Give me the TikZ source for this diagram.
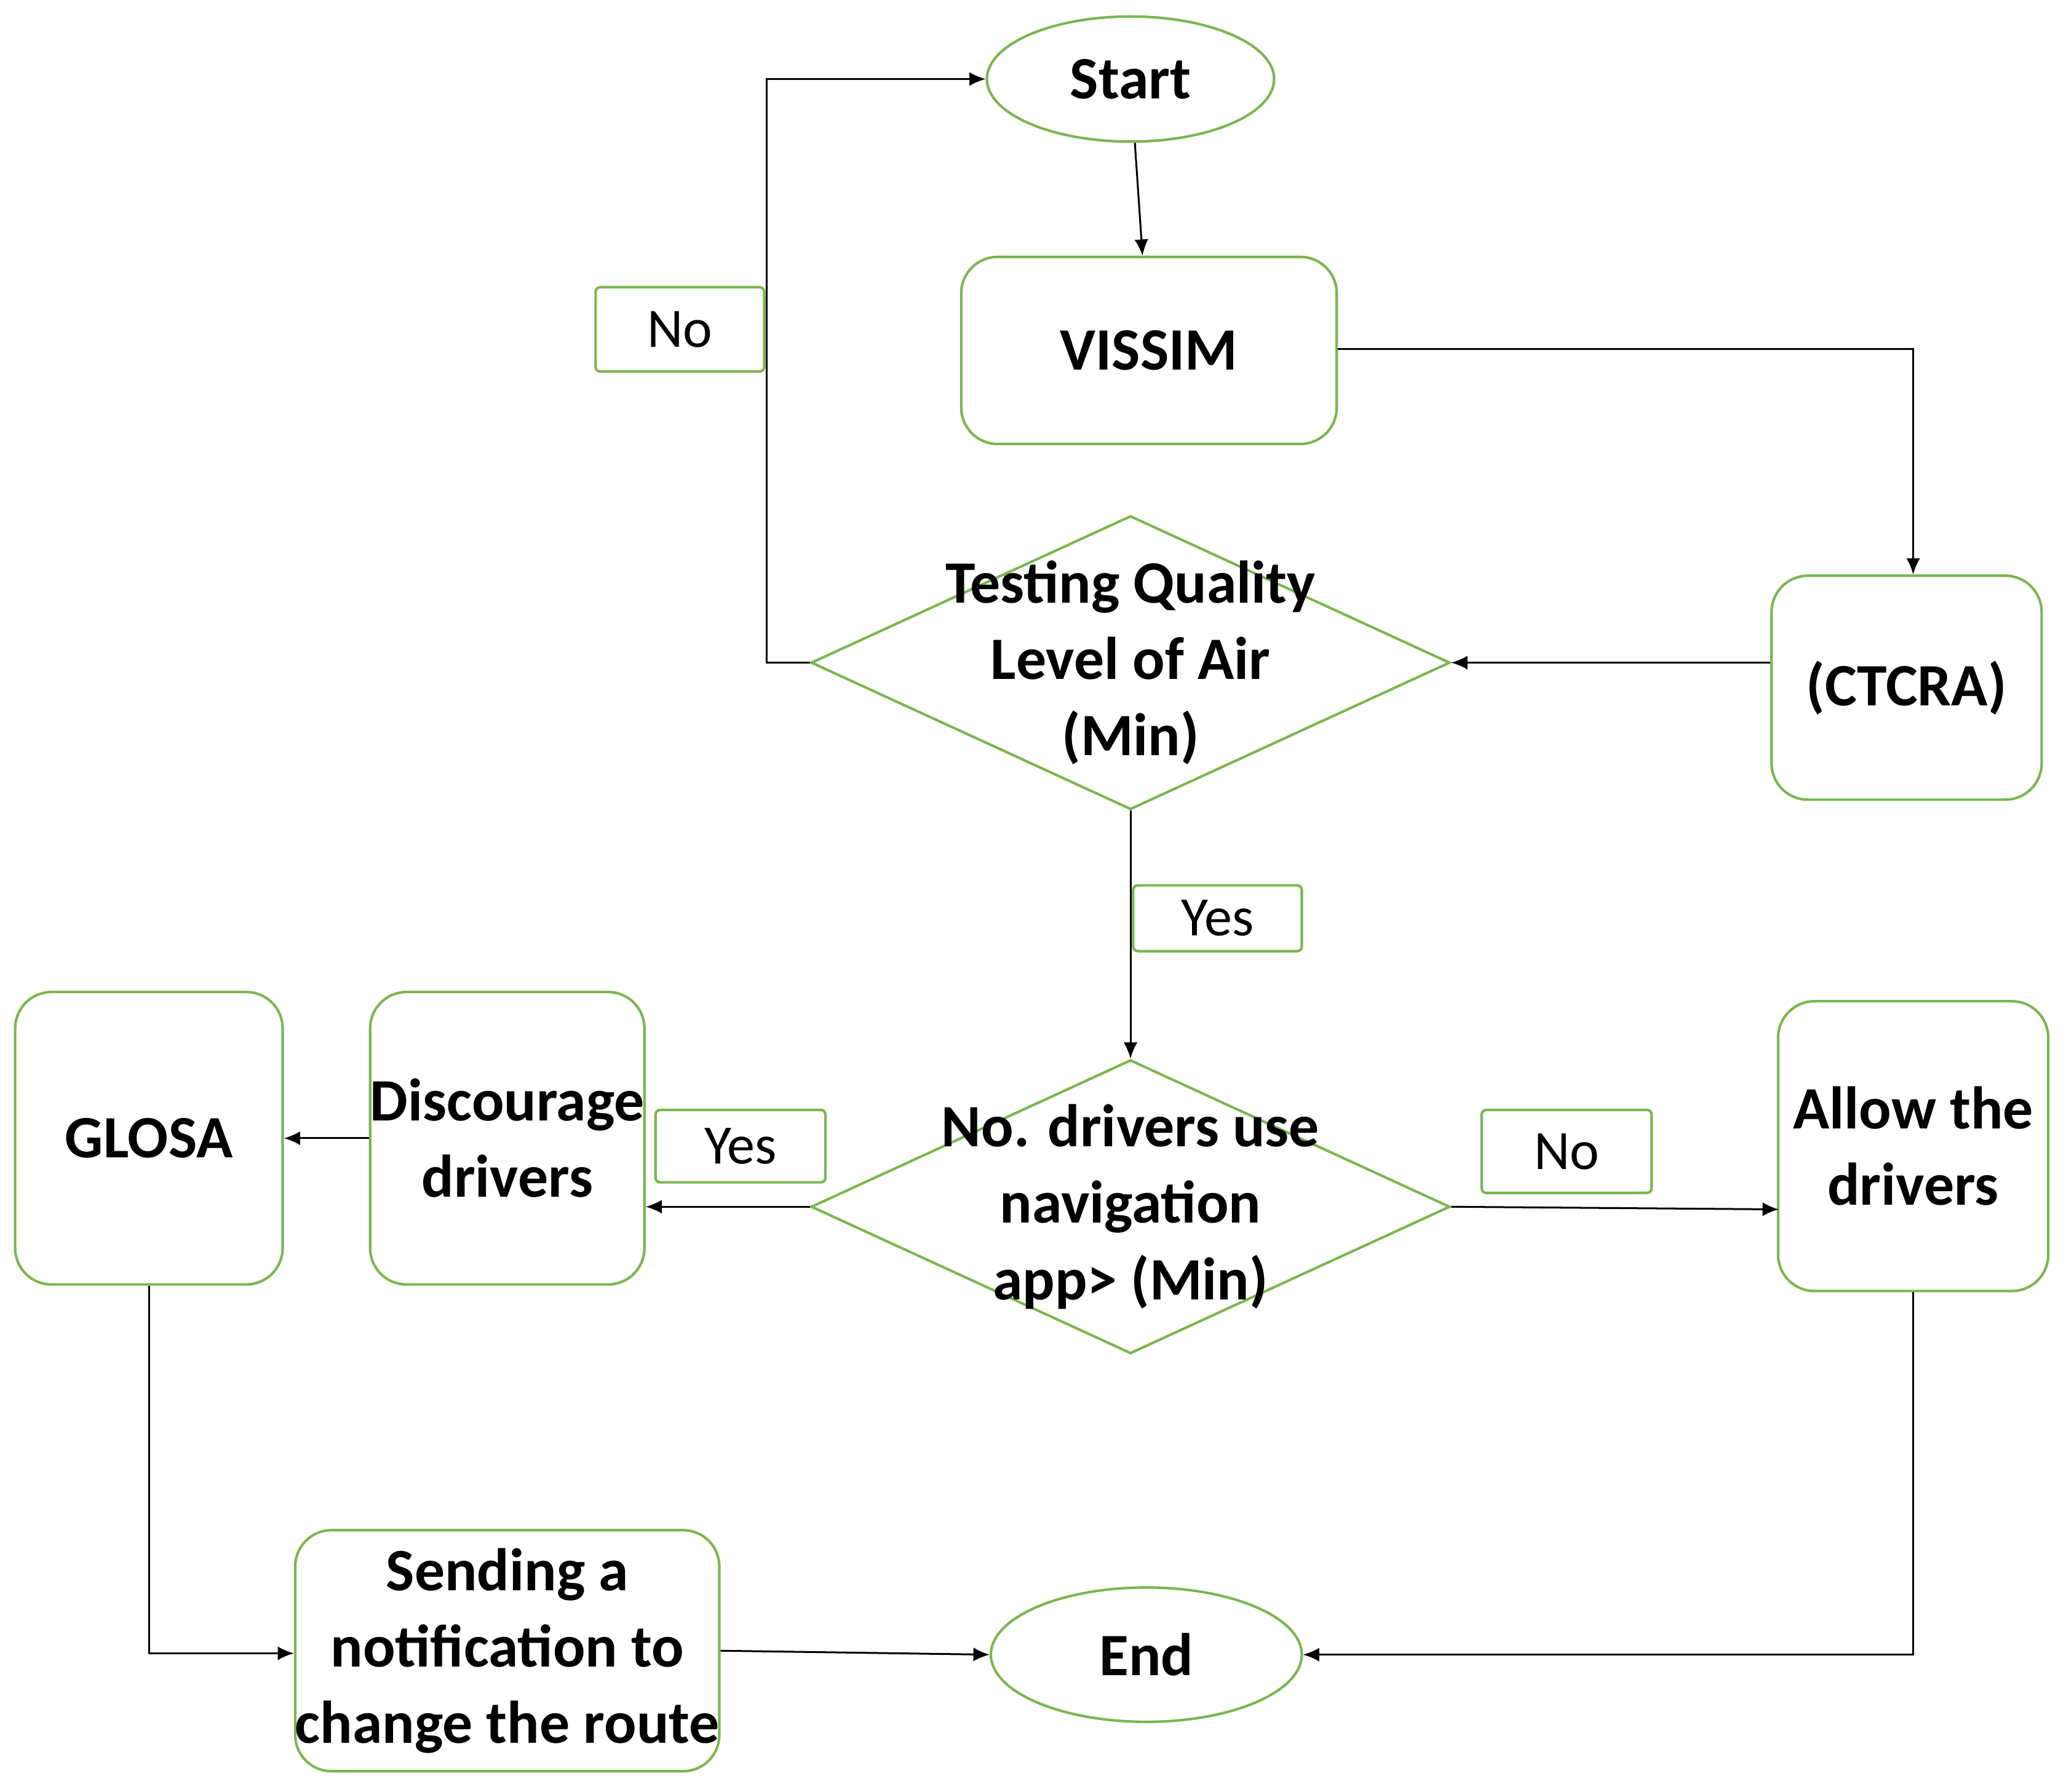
\documentclass[tikz,border=0pt]{standalone}
\usepackage{fontspec}
\setmainfont{Carlito}
\usetikzlibrary{shapes.geometric,arrows.meta}
\definecolor{grn}{RGB}{122,182,80}
\begin{document}
\begin{tikzpicture}[x=0.02cm,y=-0.02cm,
  every node/.style={font=\fontsize{26}{33}\selectfont\bfseries},
  box/.style={draw=grn,line width=1.1pt,rounded corners=0.55cm,inner sep=0pt,align=center},
  lbl/.style={draw=grn,line width=1.1pt,rounded corners=2pt,inner sep=0pt,font=\fontsize{24}{30}\selectfont},
  oval/.style={draw=grn,line width=1.1pt,ellipse,inner sep=0pt},
  dia/.style={draw=grn,line width=1.1pt,diamond,inner sep=0pt,minimum width=9.7cm,minimum height=4.46cm},
  arr/.style={-{Latex[length=7pt,width=6pt]},line width=0.8pt}]
\useasboundingbox (0,0) rectangle (1568,1360);
\node[oval,minimum width=4.36cm,minimum height=1.9cm] (start) at (858,60) {Start};
\node[box,minimum width=5.7cm,minimum height=2.84cm] (vissim) at (872,266) {VISSIM};
\node[box,minimum width=4.1cm,minimum height=3.4cm] (ctcra) at (1447,522) {(CTCRA)};
\node[dia,label={[align=center,font=\fontsize{26}{33}\selectfont\bfseries]center:Testing Quality\\Level of Air\\(Min)}] (d1) at (858,503) {};
\node[dia,label={[align=center,font=\fontsize{26}{33}\selectfont\bfseries]center:No. drivers use\\navigation\\app> (Min)}] (d2) at (858,916) {};
\node[box,minimum width=4.1cm,minimum height=4.4cm] (allow) at (1452,870) {Allow the\\drivers};
\node[box,minimum width=4.1cm,minimum height=4.44cm] (disc) at (385,864) {Discourage\\drivers};
\node[box,minimum width=4.06cm,minimum height=4.44cm] (glosa) at (113,864) {GLOSA};
\node[box,minimum width=6.12cm,minimum height=3.66cm] (send) at (385,1253) {Sending a\\notification to\\change the route};
\node[oval,minimum width=4.72cm,minimum height=2.04cm] (end) at (870,1256) {End};
\node[lbl,minimum width=2.56cm,minimum height=1.28cm] (no1) at (516,250) {No};
\node[lbl,minimum width=2.56cm,minimum height=1cm] (yes1) at (924,697) {Yes};
\node[lbl,minimum width=2.58cm,minimum height=1.1cm] (yes2) at (562,870) {Yes};
\node[lbl,minimum width=2.58cm,minimum height=1.26cm] (no2) at (1189,874) {No};
\coordinate (c1) at (1452,265);
\coordinate (c2) at (582,503);
\coordinate (c3) at (582,60);
\coordinate (c4) at (113,1255);
\coordinate (c5) at (1452,1256);
\draw[arr] (start) -- (vissim);
\draw[arr] (vissim.east |- c1) -- (c1) -- (ctcra.north -| c1);
\draw[arr] (ctcra.west |- d1) -- (d1.east);
\draw[arr] (d1.west) -- (c2) -- (c3) -- (start.west);
\draw[arr] (d1.south) -- (d2.north);
\draw[arr] (d2.west) -- (disc.east |- d2);
\draw[arr] (d2.east) -- (1350,918);
\draw[arr] (disc.west) -- (glosa.east);
\draw[arr] (glosa.south) -- (c4) -- (send.west |- c4);
\draw[arr] (send.east) -- (end.west);
\draw[arr] (allow.south -| c5) -- (c5) -- (end.east);
\end{tikzpicture}
\end{document}
